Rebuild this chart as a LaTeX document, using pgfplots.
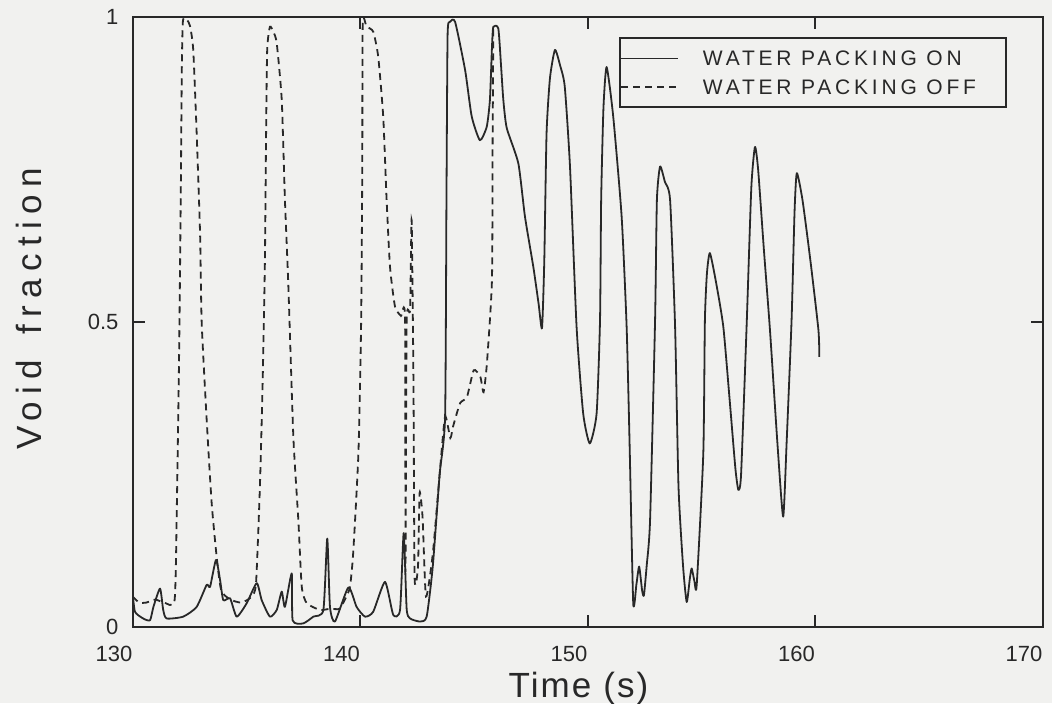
\documentclass[border=0pt]{standalone}
\usepackage{fontspec}
\setmainfont{Liberation Sans}
\usepackage{pgfplots}
\pgfplotsset{compat=1.18}
\newfontfamily\ylabfont[LetterSpace=21]{Liberation Sans}
\newfontfamily\xlabfont[LetterSpace=6]{Liberation Sans}
\newfontfamily\legfontfam[LetterSpace=18]{Liberation Sans}
\newcommand\tickfont{\fontsize{11}{13}\selectfont}
\definecolor{bgc}{RGB}{241,241,239}
\definecolor{linec}{RGB}{40,40,40}

\pgfplotstableread{
t v
130.00 0.058
130.11 0.025
130.47 0.014
130.77 0.011
130.92 0.033
131.21 0.063
131.35 0.028
131.50 0.014
132.23 0.017
132.82 0.033
133.26 0.069
133.41 0.066
133.67 0.110
133.85 0.077
133.99 0.044
134.29 0.047
134.58 0.017
135.02 0.039
135.46 0.072
135.68 0.044
136.04 0.017
136.34 0.028
136.56 0.058
136.70 0.033
137.00 0.088
137.04 0.011
137.51 0.006
137.95 0.017
138.39 0.028
138.56 0.145
138.68 0.033
138.90 0.009
139.49 0.065
139.85 0.033
140.22 0.017
140.58 0.025
141.10 0.074
141.46 0.020
141.76 0.028
141.92 0.154
142.05 0.030
142.20 0.014
142.64 0.009
142.93 0.017
143.20 0.100
143.50 0.250
143.74 0.345
143.80 0.700
143.85 0.970
143.95 0.992
144.18 0.992
144.62 0.913
144.91 0.837
145.27 0.798
145.57 0.820
145.71 0.864
145.80 0.950
145.86 0.984
146.08 0.981
146.20 0.920
146.30 0.864
146.45 0.818
146.96 0.760
147.25 0.673
147.62 0.590
147.85 0.530
148.00 0.490
148.10 0.600
148.20 0.809
148.35 0.900
148.57 0.946
148.80 0.920
149.00 0.886
149.23 0.755
149.52 0.492
149.81 0.350
150.10 0.301
150.40 0.350
150.55 0.503
150.60 0.700
150.70 0.850
150.84 0.918
151.13 0.837
151.50 0.673
151.72 0.492
151.85 0.300
152.01 0.039
152.15 0.070
152.27 0.099
152.40 0.060
152.48 0.052
152.60 0.100
152.75 0.175
152.97 0.503
153.05 0.700
153.19 0.755
153.40 0.730
153.63 0.700
153.85 0.492
154.00 0.230
154.20 0.100
154.36 0.041
154.50 0.080
154.58 0.096
154.70 0.075
154.80 0.069
155.09 0.285
155.16 0.503
155.25 0.580
155.38 0.613
155.65 0.565
155.97 0.492
156.26 0.367
156.50 0.260
156.63 0.225
156.75 0.250
157.00 0.500
157.20 0.720
157.36 0.787
157.50 0.750
157.75 0.620
158.02 0.487
158.35 0.300
158.60 0.181
158.75 0.300
158.97 0.503
159.10 0.680
159.20 0.744
159.45 0.700
159.80 0.600
160.15 0.487
160.19 0.443
}\onTable

\pgfplotstableread{
t v
130.00 0.050
130.30 0.040
130.60 0.040
131.00 0.045
131.40 0.040
131.85 0.044
131.95 0.200
132.05 0.450
132.12 0.700
132.17 0.920
132.22 0.995
132.40 0.995
132.53 0.985
132.67 0.946
132.82 0.810
132.97 0.645
133.04 0.500
133.26 0.340
133.48 0.203
133.70 0.115
133.90 0.060
134.30 0.045
134.80 0.040
135.24 0.050
135.43 0.072
135.60 0.230
135.72 0.400
135.82 0.600
135.87 0.800
135.92 0.946
136.04 0.984
136.20 0.975
136.34 0.957
136.56 0.864
136.70 0.700
136.85 0.560
137.07 0.312
137.29 0.175
137.44 0.066
137.66 0.039
138.24 0.028
138.70 0.030
139.10 0.030
139.40 0.050
139.56 0.066
139.70 0.121
139.93 0.285
140.05 0.500
140.10 0.755
140.12 0.990
140.29 0.984
140.58 0.976
140.80 0.935
141.02 0.837
141.17 0.700
141.32 0.590
141.54 0.525
141.80 0.510
141.98 0.505
142.00 0.090
142.05 0.500
142.20 0.520
142.27 0.667
142.35 0.400
142.40 0.080
142.55 0.100
142.62 0.220
142.75 0.180
142.90 0.050
143.20 0.120
143.50 0.250
143.74 0.345
143.97 0.310
144.10 0.330
144.40 0.367
144.70 0.377
145.00 0.421
145.29 0.410
145.43 0.385
145.58 0.433
145.80 0.569
145.83 0.800
145.86 0.980
}\offTable

\begin{document}
\begin{tikzpicture}
\fill[bgc] (-66.25pt,-38pt) rectangle (459.75pt,313.5pt);
\useasboundingbox (-66.25pt,-38pt) rectangle (459.75pt,313.5pt);
\begin{axis}[
  scale only axis, width=455pt, height=305pt,
  xmin=130, xmax=170, ymin=0, ymax=1,
  xtick={130,140,150,160,170}, ytick={0,0.5,1},
  tick pos=both, tick align=inside, major tick length=6pt,
  axis line style={line width=1pt, color=linec},
  every tick/.style={line width=1pt, color=linec},
  /pgf/number format/assume math mode=true,
  ticklabel style={font=\tickfont, text=linec},
  xticklabel style={anchor=north east, xshift=3.5pt, yshift=-6pt},
  yticklabel style={xshift=-3.5pt},
  xlabel={\xlabfont\fontsize{17.5}{20}\selectfont Time (s)},
  ylabel={\ylabfont\fontsize{17.5}{20}\selectfont Void\hspace{4pt} fraction},
  xlabel style={at={(axis description cs:0.4901,-0.1148)}, anchor=base, text=linec},
  ylabel style={at={(axis description cs:-0.0995,0.521)}, anchor=base, text=linec},
  legend style={draw=linec, line width=1pt, fill=none,
    at={(0.961,0.967)}, anchor=north east,
    inner xsep=0pt, inner ysep=5pt,
    nodes={inner sep=1.5pt, text depth=0pt},
    row sep=4pt, column sep=10.5pt,
    font=\legfontfam\fontsize{10.5}{12}\selectfont, text=linec},
  legend cell align=left,
  legend image code/.code={\draw[#1] (0pt,0pt) -- (28.5pt,0pt);},
]
\addplot[linec, line width=0.9pt, line join=round, smooth, tension=0.35] table[x=t,y=v] {\onTable};
\addlegendentry{WATER PACKING ON\hspace*{13.5pt}}
\addplot[linec, line width=0.9pt, dash pattern=on 3.5pt off 2.5pt, smooth, tension=0.35] table[x=t,y=v] {\offTable};
\addlegendentry{WATER PACKING OFF\hspace*{13.5pt}}
\end{axis}
\end{tikzpicture}
\end{document}
